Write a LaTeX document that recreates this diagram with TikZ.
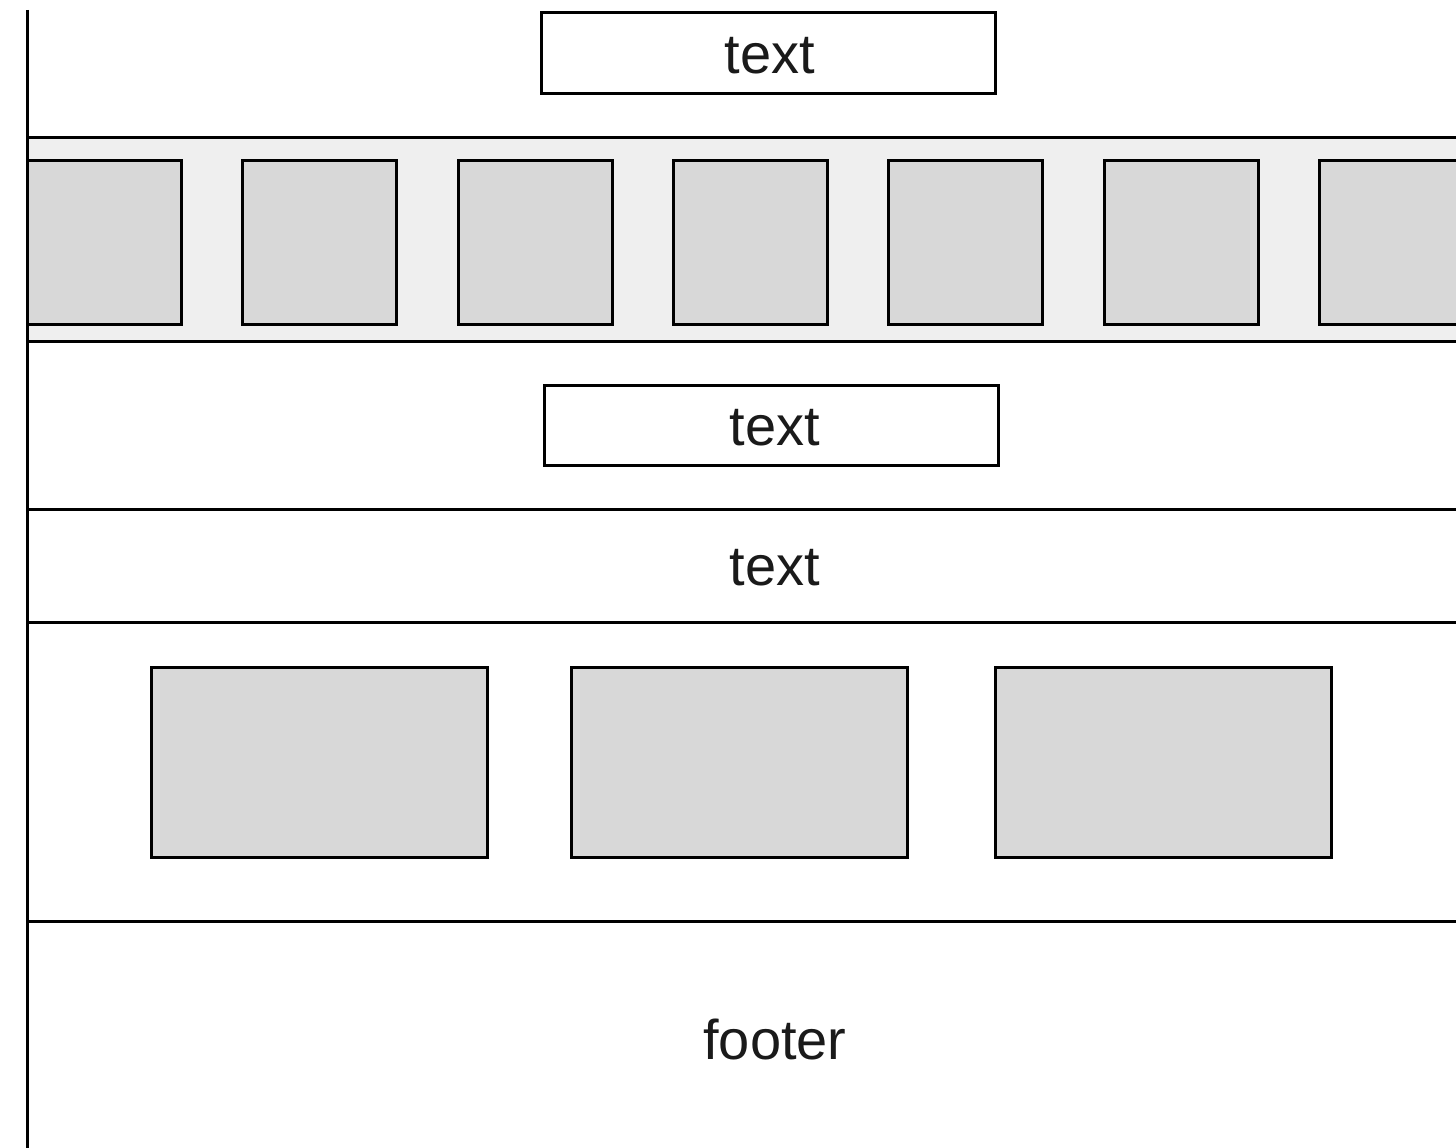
\documentclass[tikz,border=0pt]{standalone}
\usepackage{fontspec}
\setmainfont{Liberation Sans}
\definecolor{stripgray}{HTML}{EFEFEF}
\definecolor{thumbgray}{HTML}{D8D8D8}
\definecolor{inkgray}{HTML}{1A1A1A}
\begin{document}
\begin{tikzpicture}[x=1pt,y=-1pt,line width=3pt,
  lbl/.style={font=\fontsize{56}{60}\selectfont, inner sep=0pt, text=inkgray},
  textbox/.style={draw=black, fill=white, minimum width=454pt, minimum height=80pt, inner sep=0pt},
  thumb/.style={draw=black, fill=thumbgray, minimum width=154pt, minimum height=164pt, inner sep=0pt, anchor=north west},
  card/.style={draw=black, fill=thumbgray, minimum width=336pt, minimum height=190pt, inner sep=0pt, anchor=north west},
  rule/.style={draw=black, line width=3pt}]
\useasboundingbox (0,0) rectangle (1456,1148);
\clip (0,0) rectangle (1456,1148);
% coordinates
\coordinate (vtop) at (27,10);
\coordinate (vbot) at (27,1150);
\coordinate (r1a) at (27,137);  \coordinate (r1b) at (1460,137);
\coordinate (r2a) at (27,341);  \coordinate (r2b) at (1460,341);
\coordinate (r3a) at (27,509);  \coordinate (r3b) at (1460,509);
\coordinate (r4a) at (27,622);  \coordinate (r4b) at (1460,622);
\coordinate (r5a) at (27,921);  \coordinate (r5b) at (1460,921);
% strip background
\fill[stripgray] (r1a) rectangle (r2b);
% thumbnails
\foreach \i in {0,...,6}{
  \node[thumb] (s\i) at ({26+215.3*\i},159) {};
}
% strip borders
\draw[rule] (r1a) -- (r1b);
\draw[rule] (r2a) -- (r2b);
\draw[rule] (r3a) -- (r3b);
\draw[rule] (r4a) -- (r4b);
\draw[rule] (r5a) -- (r5b);
% text boxes
\node[textbox] (b1) at (768,53) {};
\node[lbl] (t1) at (770,56) {text};
\node[textbox] (b2) at (771.5,425) {};
\node[lbl] (t2) at (775,428) {text};
\node[lbl] (t3) at (775,568) {text};
% cards
\node[card] (c1) at (150,666) {};
\node[card] (c2) at (570,666) {};
\node[card] (c3) at (994,666) {};
% footer
\node[lbl] (foot) at (775,1039) {footer};
% left vertical line
\draw[rule] (vtop) -- (vbot);
\end{tikzpicture}
\end{document}
